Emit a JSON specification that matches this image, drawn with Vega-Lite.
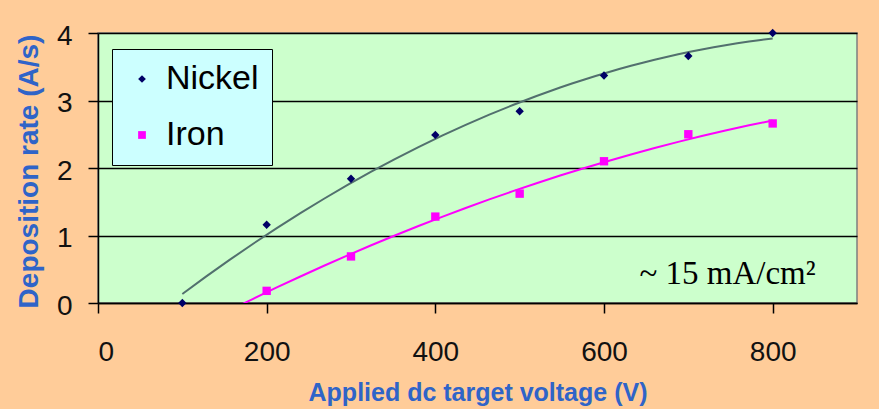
{
  "$schema": "https://vega.github.io/schema/vega-lite/v6.json",
  "width": 759,
  "height": 270,
  "autosize": "none",
  "padding": {"left": 98, "top": 33, "right": 22, "bottom": 106},
  "background": "#FFCC99",
  "data": {"values": [
    {"series": "Nickel", "voltage": 100, "rate": 0.0},
    {"series": "Nickel", "voltage": 200, "rate": 1.16},
    {"series": "Nickel", "voltage": 300, "rate": 1.84},
    {"series": "Nickel", "voltage": 400, "rate": 2.49},
    {"series": "Nickel", "voltage": 500, "rate": 2.84},
    {"series": "Nickel", "voltage": 600, "rate": 3.37},
    {"series": "Nickel", "voltage": 700, "rate": 3.66},
    {"series": "Nickel", "voltage": 800, "rate": 4.0},
    {"series": "Iron", "voltage": 200, "rate": 0.18},
    {"series": "Iron", "voltage": 300, "rate": 0.69},
    {"series": "Iron", "voltage": 400, "rate": 1.28},
    {"series": "Iron", "voltage": 500, "rate": 1.62},
    {"series": "Iron", "voltage": 600, "rate": 2.10},
    {"series": "Iron", "voltage": 700, "rate": 2.50},
    {"series": "Iron", "voltage": 800, "rate": 2.66}
  ]},
  "layer": [
    {
      "transform": [
        {"filter": "datum.series === 'Nickel'"},
        {"regression": "rate", "on": "voltage", "method": "poly", "order": 2, "extent": [100, 800]}
      ],
      "mark": {"type": "line", "clip": true, "strokeWidth": 2, "color": "#52706E"},
      "encoding": {
        "x": {"field": "voltage", "type": "quantitative"},
        "y": {"field": "rate", "type": "quantitative"}
      }
    },
    {
      "transform": [
        {"filter": "datum.series === 'Iron'"},
        {"regression": "rate", "on": "voltage", "method": "poly", "order": 2, "extent": [100, 800]}
      ],
      "mark": {"type": "line", "clip": true, "strokeWidth": 2, "color": "#FF00FF"},
      "encoding": {
        "x": {"field": "voltage", "type": "quantitative"},
        "y": {"field": "rate", "type": "quantitative"}
      }
    },
    {
      "mark": {"type": "point", "filled": true, "opacity": 1, "clip": false},
      "encoding": {
        "x": {
          "field": "voltage", "type": "quantitative",
          "scale": {"domain": [0, 900], "nice": false},
          "axis": {
            "title": "Applied dc target voltage (V)",
            "values": [0, 200, 400, 600, 800],
            "format": "d",
            "grid": false,
            "domainColor": "black", "domainWidth": 1.5,
            "tickColor": "black", "tickWidth": 1.5, "tickSize": 10,
            "labelFont": "Liberation Sans", "labelFontSize": 28, "labelColor": "#111111",
            "labelPadding": 25,
            "titleFont": "Liberation Sans", "titleFontSize": 25, "titleFontWeight": "bold",
            "titleColor": "#2F64C8", "titleBaseline": "alphabetic", "titleY": 97
          }
        },
        "y": {
          "field": "rate", "type": "quantitative",
          "scale": {"domain": [0, 4], "nice": false},
          "axis": {
            "title": "Deposition rate (A/s)",
            "values": [0, 1, 2, 3, 4],
            "format": "d",
            "grid": true, "gridColor": "black", "gridWidth": 1.5,
            "domainColor": "black", "domainWidth": 1.5,
            "tickColor": "black", "tickWidth": 1.5, "tickSize": 10,
            "labelFont": "Liberation Sans", "labelFontSize": 28, "labelColor": "#111111",
            "labelPadding": 16, "labelOffset": 3,
            "titleFont": "Liberation Sans", "titleFontSize": 28, "titleFontWeight": "bold",
            "titleColor": "#2F64C8", "titleBaseline": "alphabetic", "titleAlign": "center",
            "titleX": -61, "titleY": 138
          }
        },
        "color": {
          "field": "series", "type": "nominal",
          "scale": {"domain": ["Nickel", "Iron"], "range": ["#000066", "#FF00FF"]},
          "legend": {
            "title": null, "orient": "none", "legendX": 14, "legendY": 16,
            "fillColor": "#CCFFFF", "strokeColor": "black",
            "padding": 13, "rowPadding": 22,
            "symbolSize": 60, "symbolOffset": 0, "symbolStrokeWidth": 0,
            "labelFont": "Liberation Sans", "labelFontSize": 34, "labelColor": "black",
            "labelOffset": 7
          }
        },
        "shape": {
          "field": "series", "type": "nominal",
          "scale": {"domain": ["Nickel", "Iron"], "range": ["diamond", "square"]}
        },
        "size": {"value": 70}
      }
    },
    {
      "data": {"values": [{"label": "~ 15 mA/cm²"}]},
      "mark": {"type": "text", "align": "right", "baseline": "alphabetic", "font": "Liberation Serif", "fontSize": 33, "color": "black"},
      "encoding": {
        "x": {"datum": 851, "type": "quantitative"},
        "y": {"datum": 0.28, "type": "quantitative"},
        "text": {"field": "label", "type": "nominal"}
      }
    }
  ],
  "config": {
    "view": {"fill": "#CCFFCC", "stroke": "#7F7F7F", "strokeWidth": 1.5}
  }
}
